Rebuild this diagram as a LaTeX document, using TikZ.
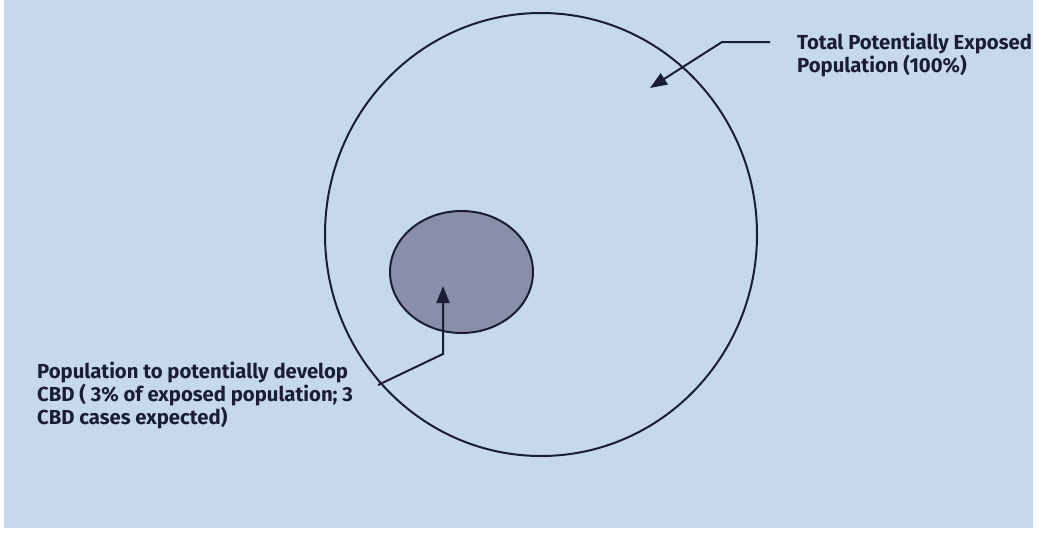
\documentclass[tikz,border=0pt]{standalone}
\usepackage{fontspec}
\setmainfont{Fira Sans}
\usetikzlibrary{shapes.geometric,arrows.meta}
\definecolor{bgblue}{HTML}{C6D9EC}
\definecolor{ink}{HTML}{1B1E33}
\definecolor{cbdfill}{HTML}{8A8FA9}
\tikzset{
  ring/.style={draw=ink, line width=2pt, ellipse, inner sep=0pt},
  label/.style={text=ink, font=\bfseries\fontsize{20.3}{18.5}\selectfont, align=left, inner sep=0pt, anchor=north west},
  pointer/.style={draw=ink, line width=2pt, -{Triangle[length=17pt,width=13pt]}}
}
\begin{document}
\begin{tikzpicture}[x=1pt,y=-1pt]
\useasboundingbox (0,0) rectangle (1046,538);
\fill[white] (0,0) rectangle (1046,538);
\fill[bgblue] (4,0) rectangle (1033,528);
\node[ring, minimum width=432pt, minimum height=443pt] (big) at (541,234.5) {};
\node[ring, fill=cbdfill, minimum width=143pt, minimum height=122pt] (small) at (461.5,272) {};
\node[label] (toptext) at (797,33) {Total Potentially Exposed\\Population (100\%)};
\node[label] (bottext) at (37,362) {Population to potentially develop\\CBD ( 3\% of exposed population; 3\\CBD cases expected)};
\coordinate (t1) at (770,42);
\coordinate (t2) at (722,42);
\coordinate (t3) at (650,88);
\draw[pointer] (t1) -- (t2) -- (t3);
\coordinate (b1) at (378,385);
\coordinate (b2) at (443,354);
\coordinate (b3) at (443,286);
\draw[pointer] (b1) -- (b2) -- (b3);
\end{tikzpicture}
\end{document}
